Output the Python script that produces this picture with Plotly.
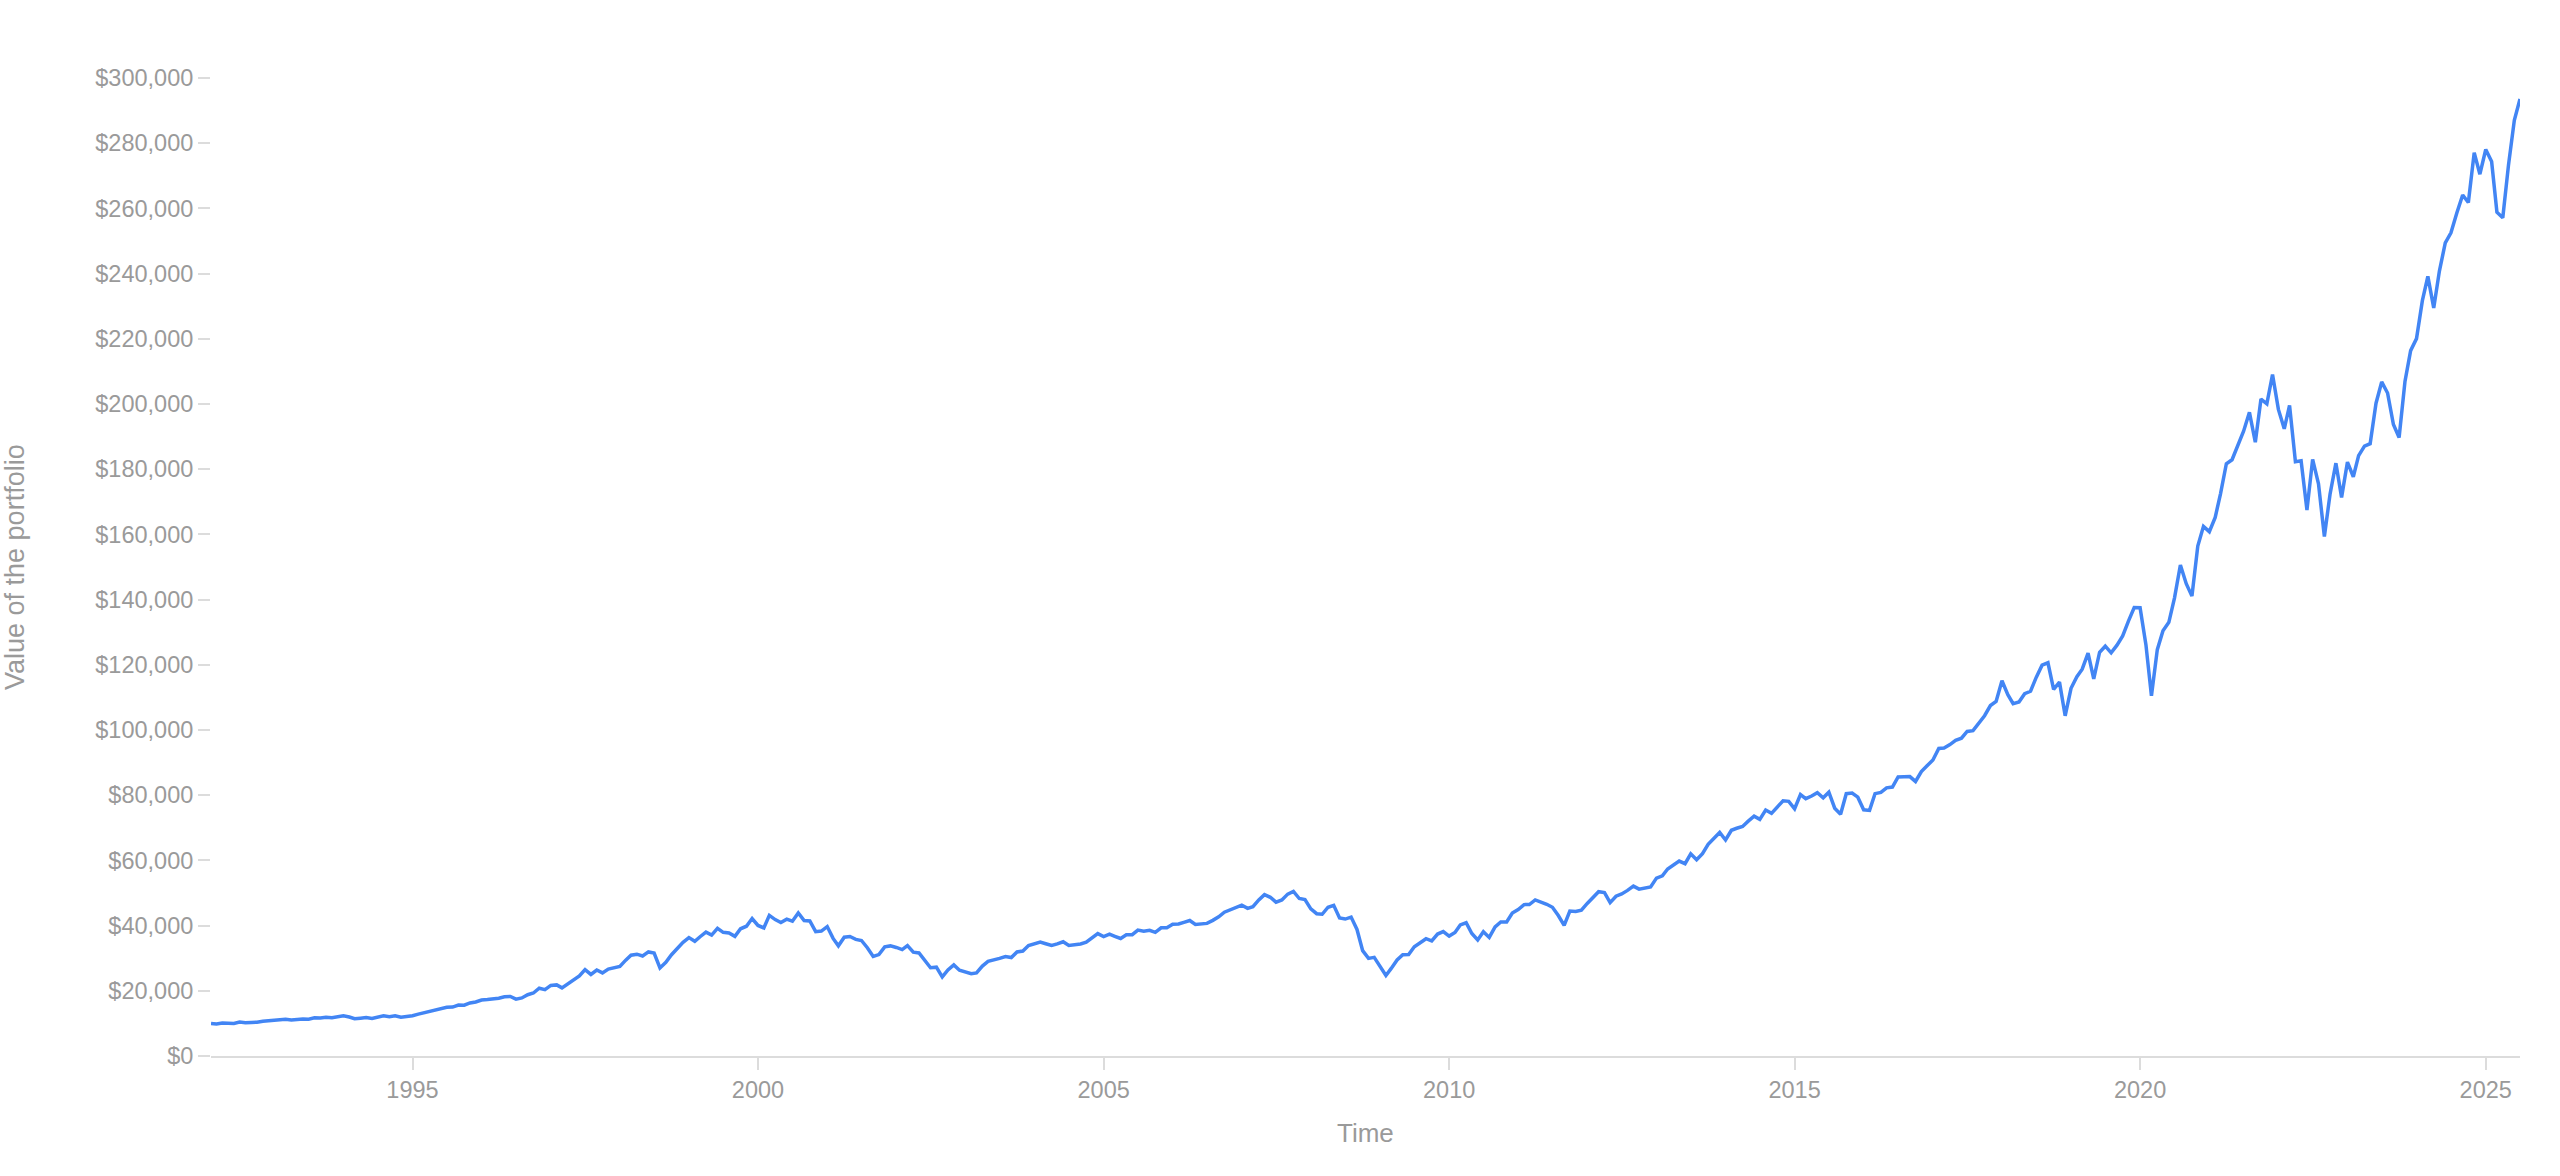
import pandas as pd
import plotly.graph_objects as go

# Monthly portfolio value (USD), first month = Feb 1992, last = Jul 2025
start_month = "1992-02-01"
portfolio_value = [
    # 1992 (Feb-Dec)
    10000, 9805, 10101, 10138, 9984, 10402, 10176, 10294, 10341, 10679, 10811,
    # 1993
    10914, 11054, 11288, 11026, 11303, 11336, 11302, 11720, 11629, 11881, 11756, 11903,
    # 1994
    12317, 11975, 11456, 11614, 11786, 11498, 11888, 12363, 12058, 12339, 11878, 12053,
    # 1995
    12371, 12846, 13224, 13623, 14149, 14482, 14973, 15000, 15633, 15589, 16263, 16581,
    # 1996
    17152, 17302, 17471, 17739, 18175, 18248, 17444, 17805, 18802, 19329, 20783, 20371,
    # 1997
    21652, 21809, 20909, 22161, 23493, 24546, 26502, 25014, 26380, 25504, 26679, 27135,
    # 1998
    27444, 29410, 30917, 31233, 30678, 31924, 31592, 27016, 28733, 31078, 32951, 34848,
    # 1999
    36313, 35176, 36579, 38004, 37091, 39149, 37932, 37733, 36692, 39024, 39808, 42154,
    # 2000
    40047, 39279, 43122, 41834, 40957, 41978, 41333, 43886, 41578, 41413, 38135, 38327,
    # 2001
    39697, 36074, 33795, 36433, 36657, 35781, 35434, 33200, 30518, 31107, 33483, 33773,
    # 2002
    33291, 32644, 33891, 31853, 31605, 29356, 27074, 27244, 24279, 26414, 27958, 26307,
    # 2003
    25626, 25231, 25480, 27587, 29036, 29410, 29933, 30514, 30198, 31904, 32181, 33866,
    # 2004
    34499, 34969, 34445, 33913, 34372, 35036, 33883, 34006, 34374, 34903, 36299, 37529,
    # 2005
    36636, 37384, 36724, 36041, 37174, 37223, 38621, 38243, 38566, 37938, 39332, 39353,
    # 2006
    40417, 40498, 41010, 41570, 40347, 40411, 40681, 41607, 42695, 44105, 44899, 45536,
    # 2007
    46241, 45296, 45817, 47868, 49496, 48686, 47197, 47871, 49657, 50464, 48309, 47962,
    # 2008
    45124, 43644, 43476, 45639, 46222, 42336, 42007, 42604, 38819, 32309, 29949, 30249,
    # 2009
    27707, 24705, 26864, 29439, 31056, 31119, 33487, 34672, 35975, 35327, 37418, 38152,
    # 2010
    36801, 37910, 40202, 40861, 37570, 35601, 38111, 36358, 39605, 41130, 41102, 43850,
    # 2011
    44922, 46437, 46469, 47876, 47312, 46527, 45608, 43092, 40066, 44460, 44311, 44764,
    # 2012
    46800, 48788, 50409, 50120, 47063, 49016, 49721, 50795, 52120, 51181, 51417, 51872,
    # 2013
    54579, 55274, 57359, 58493, 59804, 59007, 62025, 60186, 62078, 64950, 66881, 68572,
    # 2014
    66257, 69246, 69856, 70426, 72041, 73551, 72581, 75454, 74423, 76294, 78310, 78127,
    # 2015
    75852, 80171, 78932, 79760, 80754, 79211, 80931, 76016, 74147, 80458, 80653, 79387,
    # 2016
    75511, 75348, 80477, 80855, 82257, 82494, 85594, 85659, 85719, 84218, 87262, 89021,
    # 2017
    90791, 94345, 94492, 95535, 96827, 97476, 99553, 99800, 101920, 104377, 107510, 108773,
    # 2018
    115106, 110834, 108066, 108570, 111127, 111881, 116130, 119873, 120619, 112460, 114686, 104360,
    # 2019
    112783, 116353, 118662, 123559, 115652, 123853, 125713, 123671, 126028, 128843, 133477, 137548,
    # 2020
    137506, 126106, 110476, 124651, 130470, 133043, 140559, 150604, 144888, 141065, 156439, 162459,
    # 2021
    160836, 165227, 172440, 181690, 182899, 187178, 191662, 197443, 188268, 201518, 200071, 209036,
    # 2022
    198339, 192395, 199573, 182283, 182565, 167489, 183014, 175503, 159341, 172319, 181842, 171368,
    # 2023
    182200, 177682, 184158, 187106, 187823, 200250, 206767, 203378, 193728, 189723, 206917, 216358,
    # 2024
    220058, 231704, 239170, 229477, 240775, 249408, 252524, 258584, 264113, 261795, 277117, 270495,
    # 2025 (Jan-Jul)
    278074, 274383, 258849, 257125, 273209, 287043, 293548,
]
months = pd.date_range(start_month, periods=len(portfolio_value), freq="MS")

x_tick_years = ["1995", "2000", "2005", "2010", "2015", "2020", "2025"]
y_tick_values = list(range(0, 300001, 20000))
y_tick_labels = [f"${v:,}" for v in y_tick_values]

LABEL = "#9a9a9a"
RULE = "#dcdcdc"
FONT = "Liberation Sans, Arial, Helvetica, sans-serif"

fig = go.Figure()
fig.add_trace(go.Scatter(
    x=months, y=portfolio_value, mode="lines",
    line=dict(color="#4285F4", width=3.5),
    hoverinfo="skip", showlegend=False,
))

fig.update_layout(
    width=2560, height=1176,
    margin=dict(l=211, r=40, t=78, b=120, autoexpand=False),
    paper_bgcolor="white", plot_bgcolor="white",
    font=dict(family=FONT, color=LABEL, size=23.5),
    xaxis=dict(
        range=[months[0], months[-1]],
        tickvals=[pd.Timestamp(y + "-01-01") for y in x_tick_years],
        ticktext=x_tick_years,
        showgrid=False, zeroline=False,
        showline=True, linecolor=RULE, linewidth=2,
        ticks="outside", ticklen=12, tickwidth=2, tickcolor=RULE,
        tickfont=dict(size=23.5, color=LABEL),
        fixedrange=True,
    ),
    yaxis=dict(
        range=[0, 300000],
        tickvals=y_tick_values,
        ticktext=y_tick_labels,
        showgrid=False, zeroline=False, showline=False,
        ticks="outside", ticklen=12, tickwidth=2, tickcolor=RULE,
        tickfont=dict(size=23.5, color=LABEL),
        fixedrange=True,
    ),
    annotations=[
        dict(text="Time", xref="paper", yref="paper",
             x=0.5, y=(1056 - 1133) / 978, xanchor="center", yanchor="middle",
             showarrow=False, font=dict(size=26, color=LABEL, family=FONT)),
        dict(text="Value of the portfolio", xref="paper", yref="paper",
             x=(15 - 211) / 2309, y=0.5, xanchor="center", yanchor="middle",
             textangle=-90, showarrow=False,
             font=dict(size=27, color=LABEL, family=FONT)),
    ],
)

fig.write_html("out.html", config={"displayModeBar": False},
               post_script="document.body.style.margin='0';")
